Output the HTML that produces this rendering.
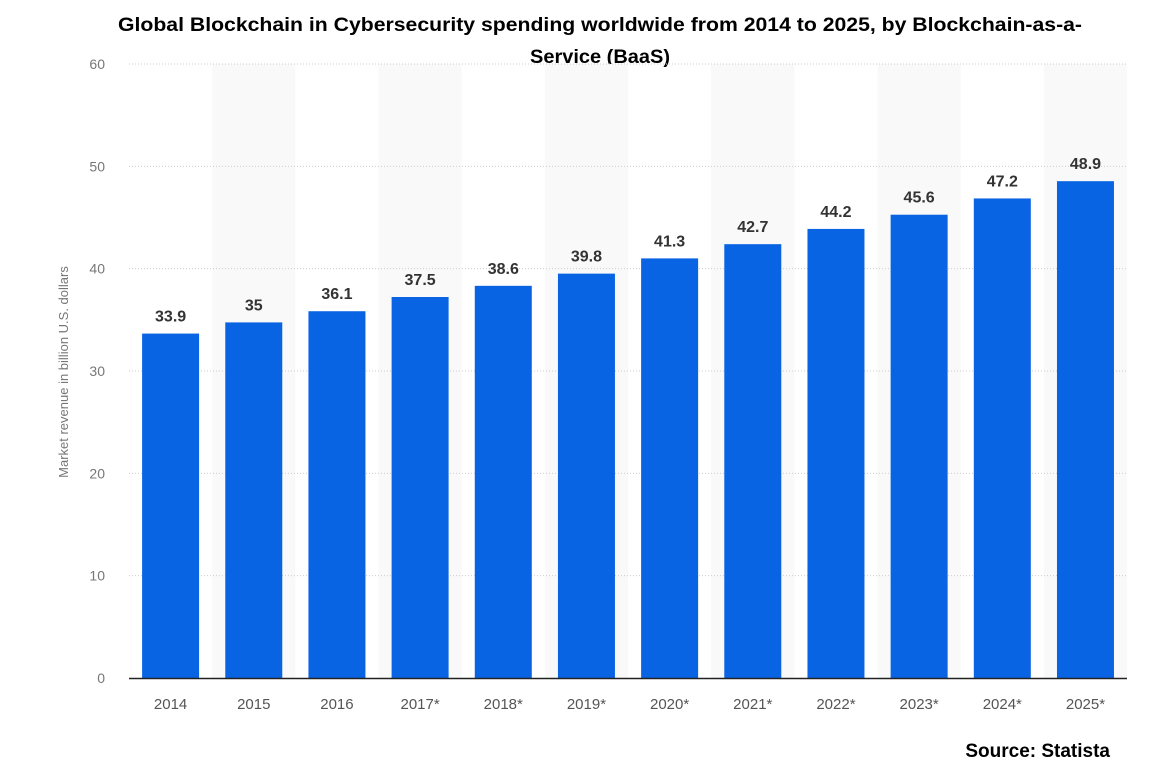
<!DOCTYPE html>
<html><head><style>
body{margin:0;background:#fff;width:1149px;height:776px;overflow:hidden;font-family:"Liberation Sans",sans-serif}
</style></head><body>
<svg width="1149" height="776" xmlns="http://www.w3.org/2000/svg" font-family="Liberation Sans, sans-serif">
<rect width="1149" height="776" fill="#fff"/>
<text x="600" y="31" text-anchor="middle" font-size="19" font-weight="bold" fill="#000" textLength="964" lengthAdjust="spacingAndGlyphs">Global Blockchain in Cybersecurity spending worldwide from 2014 to 2025, by Blockchain-as-a-</text>
<text x="600" y="63" text-anchor="middle" font-size="19" font-weight="bold" fill="#000" textLength="140" lengthAdjust="spacingAndGlyphs">Service (BaaS)</text>
<g id="bands"></g>
<g id="grid" stroke="#ccc" stroke-dasharray="1,2" stroke-width="1"></g>
<g id="ylab" font-size="14" fill="#777" text-anchor="end"></g>
<g id="bars"></g>
<line x1="129" y1="678.5" x2="1127" y2="678.5" stroke="#222" stroke-width="1.5"/>
<text transform="translate(68,372) rotate(-90)" text-anchor="middle" font-size="13" fill="#777">Market revenue in billion U.S. dollars</text>
<text x="1110" y="757" text-anchor="end" font-size="19" font-weight="bold" fill="#000">Source: Statista</text>
</svg>
<script>
const ns="http://www.w3.org/2000/svg";
const vals=[33.9,35,36.1,37.5,38.6,39.8,41.3,42.7,44.2,45.6,47.2,48.9];
const labs=["2014","2015","2016","2017*","2018*","2019*","2020*","2021*","2022*","2023*","2024*","2025*"];
const y=v=>678-v*10.233;
const yb=v=>678-v*10.16;
function el(p,t,a,txt){const e=document.createElementNS(ns,t);for(const k in a)e.setAttribute(k,a[k]);if(txt!=null)e.textContent=txt;document.getElementById(p).appendChild(e);}
for(let i=0;i<12;i++){const x0=129+83.17*i;
 if(i%2==1)el("bands","rect",{x:x0,y:64,width:83.17,height:614,fill:"#f9f9f9"});}
for(let v=10;v<=60;v+=10)el("grid","line",{x1:129,x2:1127,y1:y(v),y2:y(v)});
for(let v=0;v<=60;v+=10)el("ylab","text",{x:105,y:y(v)+5},String(v));
for(let i=0;i<12;i++){const x0=129+83.17*i;const c=x0+41.6;
 el("bars","rect",{x:c-28.5,y:yb(vals[i]),width:57,height:678-yb(vals[i]),fill:"#0964e3"});
 el("bars","text",{x:c,y:yb(vals[i])-12,"text-anchor":"middle","font-size":"16","font-weight":"bold","fill":"#333"},String(vals[i]));
 el("bars","text",{x:c,y:709,"text-anchor":"middle","font-size":"15","fill":"#555"},labs[i]);}
</script>
</body></html>
